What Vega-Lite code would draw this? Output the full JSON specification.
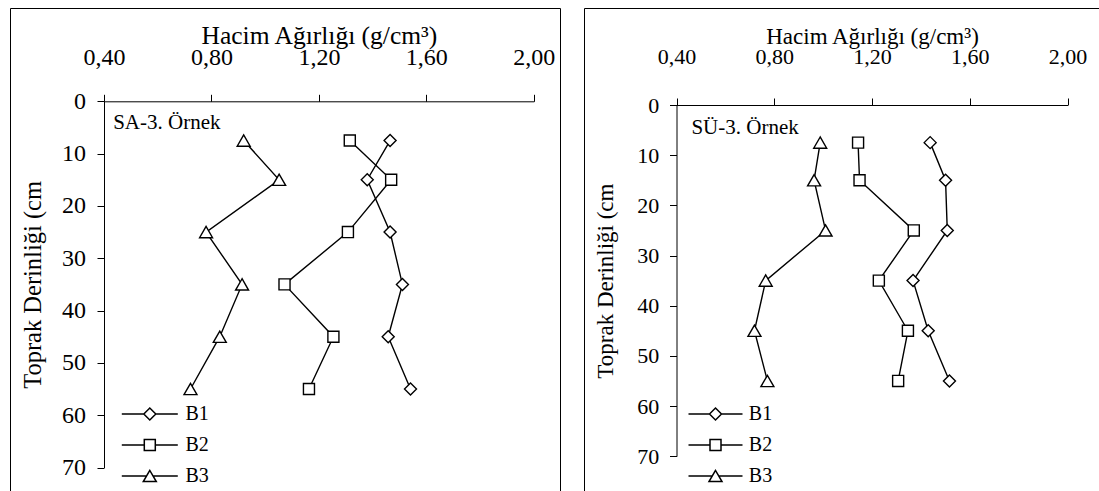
{
  "$schema": "https://vega.github.io/schema/vega-lite/v6.json",
  "padding": {"left": 9, "top": 7, "right": 0, "bottom": 0},
  "spacing": 22,
  "config": {
    "font": "Liberation Serif",
    "view": {"stroke": "#000", "strokeWidth": 1},
    "axis": {"grid": false, "domainColor": "#000", "tickColor": "#000", "labelColor": "#000", "titleColor": "#000", "titleFontWeight": "normal", "domainWidth": 1, "tickWidth": 1, "labelFlush": false, "labelOverlap": false,
      "labelFont": "Liberation Serif", "titleFont": "Liberation Serif"},
    "legend": {"labelColor": "#000", "labelFont": "Liberation Serif"},
    "text": {"font": "Liberation Serif"}
  },
  "data": {"values": [
    {"panel": "SA", "series": "B1", "depth": 7.5, "value": 1.465},
    {"panel": "SA", "series": "B1", "depth": 15, "value": 1.38},
    {"panel": "SA", "series": "B1", "depth": 25, "value": 1.465},
    {"panel": "SA", "series": "B1", "depth": 35, "value": 1.511},
    {"panel": "SA", "series": "B1", "depth": 45, "value": 1.458},
    {"panel": "SA", "series": "B1", "depth": 55, "value": 1.541},
    {"panel": "SA", "series": "B2", "depth": 7.5, "value": 1.315},
    {"panel": "SA", "series": "B2", "depth": 15, "value": 1.469},
    {"panel": "SA", "series": "B2", "depth": 25, "value": 1.308},
    {"panel": "SA", "series": "B2", "depth": 35, "value": 1.072},
    {"panel": "SA", "series": "B2", "depth": 45, "value": 1.254},
    {"panel": "SA", "series": "B2", "depth": 55, "value": 1.163},
    {"panel": "SA", "series": "B3", "depth": 7.5, "value": 0.92},
    {"panel": "SA", "series": "B3", "depth": 15, "value": 1.052},
    {"panel": "SA", "series": "B3", "depth": 25, "value": 0.78},
    {"panel": "SA", "series": "B3", "depth": 35, "value": 0.914},
    {"panel": "SA", "series": "B3", "depth": 45, "value": 0.831},
    {"panel": "SA", "series": "B3", "depth": 55, "value": 0.722},
    {"panel": "SU", "series": "B1", "depth": 7.5, "value": 1.438},
    {"panel": "SU", "series": "B1", "depth": 15, "value": 1.501},
    {"panel": "SU", "series": "B1", "depth": 25, "value": 1.508},
    {"panel": "SU", "series": "B1", "depth": 35, "value": 1.368},
    {"panel": "SU", "series": "B1", "depth": 45, "value": 1.43},
    {"panel": "SU", "series": "B1", "depth": 55, "value": 1.517},
    {"panel": "SU", "series": "B2", "depth": 7.5, "value": 1.143},
    {"panel": "SU", "series": "B2", "depth": 15, "value": 1.149},
    {"panel": "SU", "series": "B2", "depth": 25, "value": 1.371},
    {"panel": "SU", "series": "B2", "depth": 35, "value": 1.228},
    {"panel": "SU", "series": "B2", "depth": 45, "value": 1.347},
    {"panel": "SU", "series": "B2", "depth": 55, "value": 1.307},
    {"panel": "SU", "series": "B3", "depth": 7.5, "value": 0.988},
    {"panel": "SU", "series": "B3", "depth": 15, "value": 0.963},
    {"panel": "SU", "series": "B3", "depth": 25, "value": 1.01},
    {"panel": "SU", "series": "B3", "depth": 35, "value": 0.765},
    {"panel": "SU", "series": "B3", "depth": 45, "value": 0.719},
    {"panel": "SU", "series": "B3", "depth": 55, "value": 0.772}
  ]},
  "resolve": {"scale": {"shape": "independent", "x": "independent", "y": "independent"}, "legend": {"shape": "independent"}},
  "hconcat": [
    {
      "width": 550,
      "height": 500,
      "resolve": {"scale": {"shape": "independent"}, "legend": {"shape": "independent"}},
      "layer": [
        {
          "transform": [{"filter": "datum.panel === 'SA'"}],
          "mark": {"type": "line", "color": "#000", "strokeWidth": 1.4},
          "encoding": {
            "x": {"field": "value", "type": "quantitative",
              "scale": {"domain": [0.4, 2.0], "range": [94, 523.8], "nice": false, "zero": false},
              "axis": {"orient": "top", "offset": -93.3, "values": [0.4, 0.8, 1.2, 1.6, 2.0],
                "labelExpr": "replace(format(datum.value, '.2f'), '.', ',')",
                "tickSize": 7, "labelPadding": 30, "labelBaseline": "alphabetic", "labelFontSize": 24, "labelFont": "Liberation Serif",
                "title": "Hacim Ağırlığı (g/cm³)", "titleFont": "Liberation Serif", "titleFontSize": 25.5, "titleBaseline": "alphabetic", "titleY": -57.5}},
            "y": {"field": "depth", "type": "quantitative",
              "scale": {"domain": [0, 70], "range": [93.3, 459.5], "nice": false, "zero": false},
              "axis": {"orient": "left", "offset": -94, "values": [0, 10, 20, 30, 40, 50, 60, 70],
                "tickSize": 7, "labelPadding": 11.5, "labelFontSize": 24, "labelFont": "Liberation Serif",
                "title": "Toprak Derinliği (cm", "titleFont": "Liberation Serif", "titleFontSize": 24.5, "titleBaseline": "alphabetic", "titleX": -63.5}},
            "detail": {"field": "series"},
            "order": {"field": "depth", "type": "quantitative"}
          }
        },
        {
          "transform": [{"filter": "datum.panel === 'SA'"}],
          "mark": {"type": "point", "filled": true, "fill": "#fff", "stroke": "#000", "strokeWidth": 1.4, "size": 144, "opacity": 1},
          "encoding": {
            "x": {"field": "value", "type": "quantitative"},
            "y": {"field": "depth", "type": "quantitative"},
            "shape": {"field": "series", "type": "nominal",
              "scale": {"domain": ["B1", "B2", "B3"], "range": ["diamond", "M-0.92,-0.92L0.92,-0.92L0.92,0.92L-0.92,0.92Z", "M0,-0.94L-1.08,0.94L1.08,0.94Z"]},
              "legend": null}
          }
        },
        {
          "transform": [{"filter": "false"}],
          "mark": {"type": "point", "filled": true, "fill": "#fff", "stroke": "#000", "strokeWidth": 1.4, "size": 144, "opacity": 1},
          "encoding": {
            "x": {"field": "value", "type": "quantitative"},
            "y": {"field": "depth", "type": "quantitative"},
            "shape": {"field": "series", "type": "nominal",
              "scale": {"domain": ["B1", "B2", "B3"], "range": ["M-5.6,0L-1.2,0M1.2,0L5.6,0M-1.2,0L0,-1.2L1.2,0L0,1.2Z", "M-5.6,0L-1.1,0M1.1,0L5.6,0M-1.1,-1.1L1.1,-1.1L1.1,1.1L-1.1,1.1Z", "M-5.6,0L-0.65,0M0.65,0L5.6,0M0,-1.12L-1.3,1.12L1.3,1.12Z"]},
              "legend": {"orient": "none", "legendX": 129.8, "legendY": 396, "title": null,
                "labelFontSize": 20, "labelOffset": 25.7, "rowPadding": 11}
            }
          }
        },
        {
          "data": {"values": [{"t": "SA-3. Örnek"}]},
          "mark": {"type": "text", "align": "left", "baseline": "alphabetic", "fontSize": 21, "color": "#000", "font": "Liberation Serif"},
          "encoding": {
            "x": {"datum": 0.434, "type": "quantitative"},
            "y": {"datum": 5.2, "type": "quantitative"},
            "text": {"field": "t"}
          }
        }
      ]
    },
    {
      "width": 530,
      "height": 500,
      "resolve": {"scale": {"shape": "independent"}, "legend": {"shape": "independent"}},
      "layer": [
        {
          "transform": [{"filter": "datum.panel === 'SU'"}],
          "mark": {"type": "line", "color": "#000", "strokeWidth": 1.4},
          "encoding": {
            "x": {"field": "value", "type": "quantitative",
              "scale": {"domain": [0.4, 2.0], "range": [92.5, 483.5], "nice": false, "zero": false},
              "axis": {"orient": "top", "offset": -97, "values": [0.4, 0.8, 1.2, 1.6, 2.0],
                "labelExpr": "replace(format(datum.value, '.2f'), '.', ',')",
                "tickSize": 7, "labelPadding": 34.5, "labelBaseline": "alphabetic", "labelFontSize": 22, "labelFont": "Liberation Serif",
                "title": "Hacim Ağırlığı (g/cm³)", "titleFont": "Liberation Serif", "titleFontSize": 23, "titleBaseline": "alphabetic", "titleY": -61.2}},
            "y": {"field": "depth", "type": "quantitative",
              "scale": {"domain": [0, 70], "range": [97, 448.2], "nice": false, "zero": false},
              "axis": {"orient": "left", "offset": -92.5, "values": [0, 10, 20, 30, 40, 50, 60, 70],
                "tickSize": 7, "labelPadding": 10.7, "labelFontSize": 22, "labelFont": "Liberation Serif",
                "title": "Toprak Derinliği (cm", "titleFont": "Liberation Serif", "titleFontSize": 23, "titleBaseline": "alphabetic", "titleX": -64}},
            "detail": {"field": "series"},
            "order": {"field": "depth", "type": "quantitative"}
          }
        },
        {
          "transform": [{"filter": "datum.panel === 'SU'"}],
          "mark": {"type": "point", "filled": true, "fill": "#fff", "stroke": "#000", "strokeWidth": 1.4, "size": 144, "opacity": 1},
          "encoding": {
            "x": {"field": "value", "type": "quantitative"},
            "y": {"field": "depth", "type": "quantitative"},
            "shape": {"field": "series", "type": "nominal",
              "scale": {"domain": ["B1", "B2", "B3"], "range": ["diamond", "M-0.92,-0.92L0.92,-0.92L0.92,0.92L-0.92,0.92Z", "M0,-0.94L-1.08,0.94L1.08,0.94Z"]},
              "legend": null}
          }
        },
        {
          "transform": [{"filter": "false"}],
          "mark": {"type": "point", "filled": true, "fill": "#fff", "stroke": "#000", "strokeWidth": 1.4, "size": 144, "opacity": 1},
          "encoding": {
            "x": {"field": "value", "type": "quantitative"},
            "y": {"field": "depth", "type": "quantitative"},
            "shape": {"field": "series", "type": "nominal",
              "scale": {"domain": ["B1", "B2", "B3"], "range": ["M-5.4,0L-1.2,0M1.2,0L5.4,0M-1.2,0L0,-1.2L1.2,0L0,1.2Z", "M-5.4,0L-1.1,0M1.1,0L5.4,0M-1.1,-1.1L1.1,-1.1L1.1,1.1L-1.1,1.1Z", "M-5.4,0L-0.65,0M0.65,0L5.4,0M0,-1.12L-1.3,1.12L1.3,1.12Z"]},
              "legend": {"orient": "none", "legendX": 121.5, "legendY": 396, "title": null,
                "labelFontSize": 20, "labelOffset": 23.3, "rowPadding": 11}
            }
          }
        },
        {
          "data": {"values": [{"t": "SÜ-3. Örnek"}]},
          "mark": {"type": "text", "align": "left", "baseline": "alphabetic", "fontSize": 21, "color": "#000", "font": "Liberation Serif"},
          "encoding": {
            "x": {"datum": 0.461, "type": "quantitative"},
            "y": {"datum": 5.7, "type": "quantitative"},
            "text": {"field": "t"}
          }
        }
      ]
    }
  ]
}
